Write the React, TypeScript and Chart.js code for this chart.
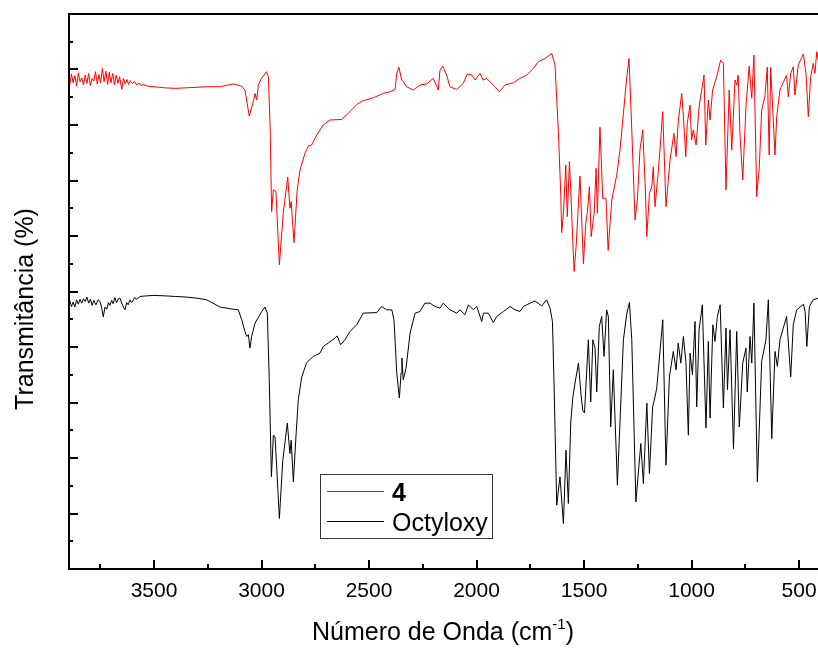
import { useEffect, useRef } from "react";
import { Chart, registerables } from "chart.js";

Chart.register(...registerables);

// Axis range (wavenumber axis reversed, transmittance in arbitrary %)
const X_MIN = 412;
const X_MAX = 3900;
const Y_MIN = 0;
const Y_MAX = 100;

const xMajorTicks = [3500, 3000, 2500, 2000, 1500, 1000, 500];
const xMinorTicks = [3750, 3250, 2750, 2250, 1750, 1250, 750];
const yMajorTicks = [10, 20, 30, 40, 50, 60, 70, 80, 90];
const yMinorTicks = [5, 15, 25, 35, 45, 55, 65, 75, 85, 95];

const legendLabels = ["4", "Octyloxy"];
const seriesColors = ["#ff0000", "#000000"];

const xTitle = "Número de Onda (cm";
const xTitleSup = "-1";
const xTitleEnd = ")";
const yTitle = "Transmitância (%)";

// Spectrum of compound 4: [wavenumber, transmittance]
const spectrum4: [number, number][] = [
  [3900, 88.6], [3892, 87.3], [3884, 89.2], [3876, 87.6], [3868, 88.9], [3860, 87.0], [3852, 89.4], [3844, 87.8],
  [3836, 88.5], [3828, 87.2], [3820, 89.0], [3812, 87.5], [3804, 89.3], [3796, 87.1], [3788, 88.4], [3780, 87.9],
  [3772, 89.6], [3764, 87.4], [3756, 89.1], [3748, 87.6], [3740, 90.2], [3732, 87.8], [3724, 89.7], [3716, 87.3],
  [3708, 89.5], [3700, 87.6], [3692, 89.3], [3684, 87.2], [3676, 89.0], [3668, 87.5], [3660, 88.7], [3650, 86.4],
  [3642, 88.4], [3634, 87.4], [3626, 88.2], [3618, 87.3], [3610, 88.0], [3600, 87.5], [3590, 87.8], [3580, 87.2],
  [3570, 87.6], [3560, 87.1], [3550, 87.3], [3530, 87.0], [3500, 86.9], [3450, 86.7], [3400, 86.6], [3350, 86.7],
  [3300, 86.8], [3250, 86.9], [3193, 86.9], [3131, 87.4], [3092, 87.0], [3077, 86.3], [3057, 81.6], [3046, 83.2],
  [3038, 84.2], [3030, 85.7], [3022, 84.5], [3015, 87.2], [2999, 88.5], [2976, 89.6], [2968, 88.7], [2960, 79.7],
  [2953, 64.4], [2945, 68.3], [2933, 68.0], [2917, 54.8], [2899, 64.1], [2878, 70.6], [2868, 65.0], [2862, 66.2],
  [2849, 58.8], [2834, 68.3], [2821, 71.9], [2798, 74.9], [2782, 76.2], [2767, 76.4], [2743, 78.2], [2713, 80.0],
  [2682, 80.9], [2627, 81.0], [2589, 82.4], [2557, 83.7], [2527, 84.4], [2480, 84.9], [2434, 85.7], [2402, 86.0],
  [2379, 86.4], [2371, 89.3], [2361, 90.4], [2348, 88.1], [2341, 87.8], [2325, 86.9], [2294, 86.3], [2263, 87.2],
  [2232, 87.4], [2201, 88.4], [2178, 86.3], [2170, 89.9], [2157, 90.6], [2139, 89.0], [2124, 86.9], [2092, 86.4],
  [2062, 87.5], [2043, 89.2], [2022, 89.0], [2007, 88.1], [1984, 89.3], [1969, 88.1], [1953, 88.4], [1930, 87.5],
  [1914, 86.9], [1894, 86.0], [1868, 87.2], [1829, 87.6], [1798, 88.4], [1767, 89.0], [1736, 90.2], [1713, 91.4],
  [1681, 92.0], [1650, 92.9], [1635, 90.8], [1619, 78.5], [1608, 67.1], [1604, 60.6], [1596, 64.1], [1585, 72.8],
  [1578, 63.5], [1568, 73.4], [1562, 68.3], [1552, 58.7], [1546, 53.6], [1537, 58.1], [1519, 70.8], [1503, 55.0],
  [1492, 62.3], [1485, 64.1], [1475, 68.9], [1467, 59.9], [1453, 64.1], [1444, 72.2], [1438, 64.1], [1426, 79.6],
  [1413, 66.8], [1398, 66.8], [1388, 57.4], [1371, 66.5], [1348, 71.0], [1333, 75.5], [1317, 82.1], [1301, 88.7],
  [1291, 92.0], [1278, 79.1], [1263, 62.9], [1252, 66.5], [1240, 75.5], [1227, 79.1], [1216, 69.5], [1208, 59.9],
  [1196, 67.7], [1185, 68.9], [1178, 72.5], [1170, 65.3], [1154, 71.9], [1134, 82.4], [1119, 65.3], [1100, 73.7],
  [1082, 78.5], [1072, 74.3], [1062, 80.6], [1046, 85.7], [1038, 81.6], [1027, 74.3], [1020, 80.3], [1007, 83.6],
  [1000, 77.3], [992, 79.1], [979, 76.4], [964, 83.6], [953, 86.3], [942, 89.0], [934, 76.4], [922, 84.5],
  [914, 80.9], [902, 86.3], [883, 88.7], [865, 91.7], [852, 91.1], [840, 68.3], [825, 86.3], [813, 75.5],
  [798, 88.1], [790, 87.2], [783, 89.0], [775, 78.5], [762, 70.1], [747, 83.3], [732, 90.6], [720, 84.8],
  [710, 92.6], [697, 67.1], [685, 72.5], [674, 82.7], [659, 85.1], [648, 90.4], [639, 74.6], [632, 90.4],
  [620, 80.9], [612, 74.6], [604, 81.5], [589, 86.3], [558, 89.0], [550, 85.1], [539, 89.3], [527, 90.5],
  [519, 85.4], [504, 90.8], [480, 92.8], [468, 89.3], [457, 81.5], [446, 88.7], [434, 91.1], [426, 89.3],
  [418, 93.2], [411, 91.7],
];

// Spectrum of the octyloxy compound: [wavenumber, transmittance]
const spectrumOctyloxy: [number, number][] = [
  [3900, 47.6], [3892, 48.4], [3884, 47.3], [3876, 48.1], [3868, 47.2], [3860, 48.5], [3852, 47.7], [3844, 48.6],
  [3836, 47.9], [3828, 48.7], [3820, 48.2], [3812, 49.0], [3804, 47.9], [3796, 48.6], [3788, 47.5], [3780, 48.4],
  [3770, 47.6], [3760, 48.5], [3751, 48.2], [3743, 47.0], [3736, 45.4], [3728, 47.2], [3720, 46.8], [3712, 48.0],
  [3705, 47.5], [3697, 48.4], [3690, 47.8], [3682, 48.9], [3674, 48.0], [3666, 48.7], [3658, 48.8], [3650, 47.9],
  [3642, 47.2], [3635, 46.7], [3627, 48.0], [3620, 47.6], [3612, 48.5], [3605, 48.0], [3598, 48.3], [3590, 48.9],
  [3580, 48.6], [3565, 49.1], [3540, 49.2], [3500, 49.3], [3441, 49.2], [3400, 49.1], [3350, 49.0], [3300, 48.8],
  [3255, 48.5], [3193, 47.2], [3131, 46.8], [3108, 46.7], [3092, 44.9], [3077, 42.8], [3069, 41.9], [3061, 42.2],
  [3054, 39.8], [3046, 41.9], [3030, 44.3], [2999, 46.4], [2984, 47.2], [2973, 46.1], [2964, 34.1], [2954, 16.6],
  [2945, 24.1], [2937, 23.8], [2927, 16.6], [2917, 9.1], [2901, 19.6], [2880, 26.3], [2868, 20.8], [2862, 23.2],
  [2852, 15.7], [2840, 23.8], [2829, 30.5], [2813, 34.6], [2790, 37.2], [2759, 38.3], [2728, 38.9], [2713, 40.1],
  [2690, 40.7], [2658, 41.6], [2648, 42.0], [2632, 40.4], [2612, 41.3], [2589, 42.8], [2557, 44.0], [2527, 46.1],
  [2464, 46.2], [2441, 47.3], [2418, 46.7], [2394, 46.7], [2384, 44.9], [2371, 35.3], [2359, 30.8], [2351, 35.3],
  [2347, 38.0], [2341, 34.1], [2328, 36.2], [2309, 42.5], [2286, 46.1], [2263, 46.4], [2240, 47.9], [2217, 47.9],
  [2193, 47.3], [2170, 47.0], [2155, 47.9], [2124, 46.7], [2092, 46.1], [2077, 46.7], [2054, 45.8], [2038, 47.6],
  [2015, 46.7], [1999, 47.3], [1976, 44.6], [1968, 46.1], [1945, 46.1], [1922, 44.4], [1906, 45.5], [1875, 46.4],
  [1844, 47.3], [1821, 46.7], [1798, 46.4], [1782, 47.3], [1767, 47.6], [1751, 47.9], [1728, 48.3], [1697, 47.4],
  [1674, 48.5], [1658, 47.0], [1647, 44.6], [1640, 34.1], [1627, 11.5], [1612, 16.6], [1596, 8.2], [1584, 21.4],
  [1573, 11.8], [1562, 26.3], [1552, 31.0], [1542, 33.5], [1526, 37.1], [1514, 31.4], [1506, 28.6], [1498, 28.1],
  [1480, 41.3], [1469, 30.1], [1459, 41.3], [1449, 39.8], [1441, 31.9], [1429, 43.7], [1418, 45.5], [1407, 38.3],
  [1395, 46.7], [1387, 45.5], [1376, 25.6], [1364, 35.9], [1345, 15.1], [1317, 41.3], [1301, 46.1], [1289, 48.0],
  [1278, 41.3], [1259, 12.1], [1236, 22.6], [1224, 15.4], [1208, 29.9], [1196, 17.2], [1181, 29.2], [1170, 31.0],
  [1162, 32.6], [1134, 44.9], [1119, 18.7], [1103, 34.6], [1085, 39.2], [1072, 35.9], [1062, 40.7], [1050, 37.1],
  [1038, 41.9], [1026, 37.1], [1015, 24.1], [1007, 38.9], [996, 35.0], [984, 44.6], [976, 29.2], [965, 43.1],
  [950, 47.6], [933, 25.4], [922, 41.0], [914, 27.2], [901, 44.0], [891, 41.0], [880, 45.5], [867, 47.6],
  [852, 29.0], [840, 43.4], [833, 32.3], [821, 43.1], [805, 21.7], [790, 42.8], [778, 25.6], [762, 37.1],
  [747, 39.8], [741, 31.9], [728, 41.9], [720, 37.1], [710, 47.9], [694, 15.7], [674, 37.4], [654, 41.3],
  [643, 48.5], [627, 23.5], [612, 39.2], [601, 36.5], [589, 41.3], [558, 45.5], [539, 34.6], [527, 44.0],
  [511, 46.7], [480, 47.7], [472, 46.4], [464, 40.1], [452, 47.3], [434, 48.5], [411, 48.8],
];

const FONT = "'Liberation Sans', Arial, Helvetica, sans-serif";

const framePlugin = {
  id: "originFrame",
  afterDraw(chart: any) {
    const { ctx, chartArea } = chart;
    const { left, top, right, bottom } = chartArea;
    const xs = chart.scales.x;
    const ys = chart.scales.y;
    ctx.save();
    ctx.strokeStyle = "#000";
    ctx.lineWidth = 2;
    ctx.lineCap = "butt";
    // frame: left, top, bottom
    ctx.beginPath();
    ctx.moveTo(left + 1, top - 1);
    ctx.lineTo(left + 1, bottom + 1);
    ctx.moveTo(left, top);
    ctx.lineTo(right + 2, top);
    ctx.moveTo(left, bottom);
    ctx.lineTo(right + 2, bottom);
    ctx.stroke();
    // x ticks (inside)
    ctx.beginPath();
    for (const v of xMajorTicks) {
      const px = Math.round(xs.getPixelForValue(v));
      ctx.moveTo(px, bottom);
      ctx.lineTo(px, bottom - 9);
    }
    for (const v of xMinorTicks) {
      const px = Math.round(xs.getPixelForValue(v));
      ctx.moveTo(px, bottom);
      ctx.lineTo(px, bottom - 5);
    }
    // y ticks (inside)
    for (const v of yMajorTicks) {
      const py = Math.round(ys.getPixelForValue(v));
      ctx.moveTo(left, py);
      ctx.lineTo(left + 10, py);
    }
    for (const v of yMinorTicks) {
      const py = Math.round(ys.getPixelForValue(v));
      ctx.moveTo(left, py);
      ctx.lineTo(left + 5, py);
    }
    ctx.stroke();

    // axis titles
    ctx.fillStyle = "#000";
    ctx.textBaseline = "alphabetic";
    const mainFont = `25px ${FONT}`;
    const supFont = `15px ${FONT}`;
    ctx.font = mainFont;
    const w1 = ctx.measureText(xTitle).width;
    const w3 = ctx.measureText(xTitleEnd).width;
    ctx.font = supFont;
    const w2 = ctx.measureText(xTitleSup).width;
    const total = w1 + w2 + w3;
    const cx = (left + right) / 2;
    const x0 = cx - total / 2;
    const baseY = 640;
    ctx.textAlign = "left";
    ctx.font = mainFont;
    ctx.fillText(xTitle, x0, baseY);
    ctx.font = supFont;
    ctx.fillText(xTitleSup, x0 + w1, baseY - 11);
    ctx.font = mainFont;
    ctx.fillText(xTitleEnd, x0 + w1 + w2, baseY);

    ctx.save();
    ctx.translate(32.5, 309);
    ctx.rotate(-Math.PI / 2);
    ctx.textAlign = "center";
    ctx.font = mainFont;
    ctx.fillText(yTitle, 0, 0);
    ctx.restore();

    // legend box
    ctx.lineWidth = 1;
    ctx.strokeStyle = "#333";
    ctx.strokeRect(320.5, 474.5, 172, 64);
    const rows = [491.5, 521.5];
    legendLabels.forEach((label, i) => {
      ctx.strokeStyle = seriesColors[i];
      ctx.lineWidth = 1;
      ctx.beginPath();
      ctx.moveTo(327, rows[i]);
      ctx.lineTo(384, rows[i]);
      ctx.stroke();
      ctx.fillStyle = "#000";
      ctx.textAlign = "left";
      ctx.font = i === 0 ? `bold 25px ${FONT}` : `25px ${FONT}`;
      ctx.fillText(label, 392, i === 0 ? 500.5 : 530.5);
    });
    ctx.restore();
  },
};

export default function App() {
  const canvasRef = useRef<HTMLCanvasElement | null>(null);

  useEffect(() => {
    const canvas = canvasRef.current;
    if (!canvas) return;
    const chart = new Chart(canvas, {
      type: "line",
      data: {
        datasets: [
          {
            label: legendLabels[0],
            data: spectrum4.map(([x, y]) => ({ x, y })),
            borderColor: seriesColors[0],
            borderWidth: 1,
            pointRadius: 0,
            tension: 0,
            fill: false,
          },
          {
            label: legendLabels[1],
            data: spectrumOctyloxy.map(([x, y]) => ({ x, y })),
            borderColor: seriesColors[1],
            borderWidth: 1,
            pointRadius: 0,
            tension: 0,
            fill: false,
          },
        ],
      },
      options: {
        animation: false,
        responsive: false,
        devicePixelRatio: 1,
        layout: { padding: { top: 14, left: 0, right: 0, bottom: 0 } },
        plugins: {
          legend: { display: false },
          tooltip: { enabled: false },
          title: { display: false },
        },
        events: [],
        scales: {
          x: {
            type: "linear",
            reverse: true,
            min: X_MIN,
            max: X_MAX,
            grid: { display: false, drawTicks: false },
            border: { display: false },
            ticks: {
              color: "#000",
              font: { family: FONT, size: 21 },
              padding: 10,
              maxRotation: 0,
              autoSkip: false,
              callback: (v: any) => String(v),
            },
            afterBuildTicks: (axis: any) => {
              axis.ticks = xMajorTicks.map((v) => ({ value: v }));
            },
            afterFit: (axis: any) => {
              axis.height = 79;
              axis.paddingLeft = 0;
              axis.paddingRight = 0;
              axis.paddingTop = 0;
              axis.paddingBottom = 0;
            },
          },
          y: {
            type: "linear",
            min: Y_MIN,
            max: Y_MAX,
            grid: { display: false, drawTicks: false },
            border: { display: false },
            ticks: { display: false },
            afterFit: (axis: any) => {
              axis.width = 68;
              axis.paddingLeft = 0;
              axis.paddingRight = 0;
              axis.paddingTop = 0;
              axis.paddingBottom = 0;
            },
          },
        },
      },
      plugins: [framePlugin],
    });
    return () => chart.destroy();
  }, []);

  return (
    <div style={{ position: "fixed", left: 0, top: 0, width: 818, height: 648, background: "#fff" }}>
      <canvas ref={canvasRef} width={818} height={648} style={{ display: "block" }} />
    </div>
  );
}
